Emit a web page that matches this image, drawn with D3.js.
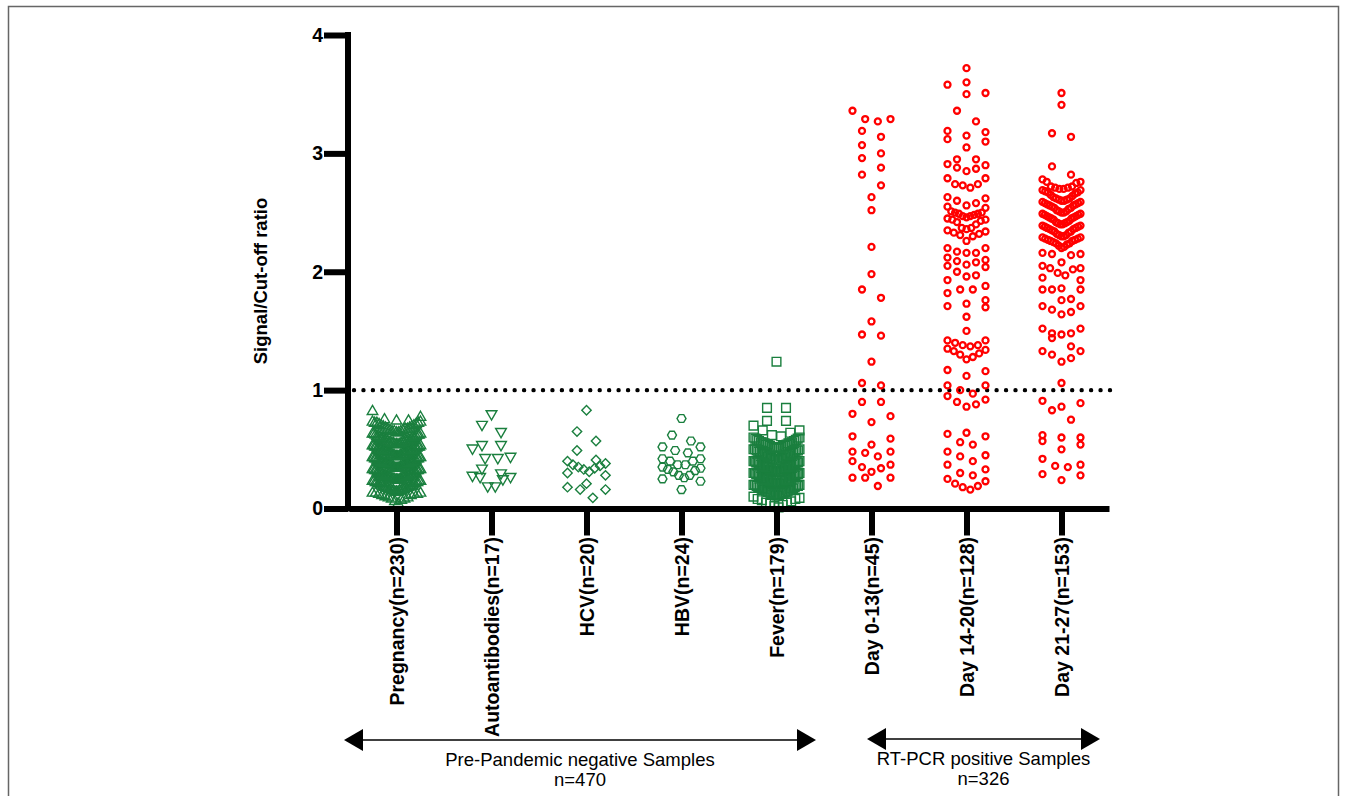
<!DOCTYPE html>
<html>
  <head>
    <meta charset="utf-8" />
    <title>Signal/Cut-off ratio</title>
    <script src="https://d3js.org/d3.v7.min.js"></script>
    <style>
      body { margin: 0; background: #fff; }
      text { font-family: Arial, "Liberation Sans", sans-serif; }
    </style>
  </head>
  <body>
    <svg width="1357" height="796"></svg>
    <script>
      // categories and values
      const categories = ["Pregnancy(n=230)", "Autoantibodies(n=17)", "HCV(n=20)", "HBV(n=24)",
                          "Fever(n=179)", "Day 0-13(n=45)", "Day 14-20(n=128)", "Day 21-27(n=153)"];
      const yTicks = [0, 1, 2, 3, 4];
      const cutOff = 1;

      const pregnancy = [
        0.04,0.06,0.07,0.08,0.08,0.09,0.09,0.10,
        0.11,0.11,0.12,0.12,0.12,0.13,0.13,0.13,0.14,0.14,0.14,0.15,0.15,0.15,0.15,0.16,0.16,0.16,0.16,0.17,0.17,0.17,0.18,0.18,0.18,0.19,0.19,0.19,0.20,0.20,
        0.21,0.21,0.21,0.22,0.22,0.22,0.22,0.23,0.23,0.23,0.23,0.24,0.24,0.24,0.24,0.25,0.25,0.25,0.25,0.25,0.26,0.26,0.26,0.26,0.27,0.27,0.27,0.27,0.28,0.28,0.28,0.28,0.29,0.29,0.29,0.30,0.30,0.30,
        0.31,0.31,0.31,0.31,0.32,0.32,0.32,0.32,0.33,0.33,0.33,0.33,0.34,0.34,0.34,0.34,0.34,0.35,0.35,0.35,0.35,0.36,0.36,0.36,0.36,0.37,0.37,0.37,0.37,0.38,0.38,0.38,0.38,0.38,0.39,0.39,0.39,0.39,0.40,0.40,0.40,0.40,
        0.41,0.41,0.41,0.41,0.42,0.42,0.42,0.42,0.43,0.43,0.43,0.43,0.44,0.44,0.44,0.44,0.45,0.45,0.45,0.45,0.46,0.46,0.46,0.46,0.47,0.47,0.47,0.47,0.48,0.48,0.48,0.48,0.49,0.49,0.49,0.49,0.50,0.50,0.50,0.50,
        0.51,0.51,0.51,0.51,0.52,0.52,0.52,0.52,0.53,0.53,0.53,0.54,0.54,0.54,0.54,0.55,0.55,0.55,0.56,0.56,0.56,0.56,0.57,0.57,0.57,0.58,0.58,0.58,0.58,0.59,0.59,0.59,0.60,0.60,0.60,
        0.61,0.61,0.61,0.62,0.62,0.62,0.63,0.63,0.63,0.64,0.64,0.65,0.65,0.65,0.66,0.66,0.67,0.67,0.67,0.68,0.68,0.69,0.69,0.70,0.70,
        0.71,0.71,0.72,0.72,0.72,0.73,0.73,0.74,0.74,0.75,0.77,0.82
      ];
      const autoantibodies = [0.80,0.71,0.65,0.54,0.54,0.51,0.44,0.43,0.43,0.34,0.30,0.28,0.27,0.27,0.25,0.19,0.19];
      const hcv = [0.83,0.65,0.57,0.49,0.41,0.40,0.38,0.37,0.36,0.35,0.34,0.33,0.31,0.30,0.28,0.21,0.18,0.16,0.16,0.09];
      const hbv = [0.76,0.62,0.57,0.52,0.52,0.49,0.47,0.42,0.42,0.40,0.40,0.37,0.37,0.35,0.34,0.33,0.32,0.31,0.28,0.28,0.26,0.25,0.23,0.16];
      const fever = [
        0.01,0.02,0.03,0.04,0.05,0.05,0.06,0.07,0.08,0.08,0.09,0.10,
        0.11,0.11,0.11,0.12,0.12,0.12,0.13,0.13,0.13,0.14,0.14,0.14,0.15,0.15,0.15,0.16,0.16,0.16,0.17,0.17,0.17,0.18,0.18,0.18,0.19,0.19,0.19,0.20,0.20,0.20,
        0.21,0.21,0.21,0.21,0.22,0.22,0.22,0.23,0.23,0.23,0.23,0.24,0.24,0.24,0.25,0.25,0.25,0.25,0.26,0.26,0.26,0.27,0.27,0.27,0.27,0.28,0.28,0.28,0.29,0.29,0.29,0.29,0.30,0.30,0.30,
        0.31,0.31,0.31,0.31,0.32,0.32,0.32,0.33,0.33,0.33,0.33,0.34,0.34,0.34,0.35,0.35,0.35,0.35,0.36,0.36,0.36,0.37,0.37,0.37,0.37,0.38,0.38,0.38,0.39,0.39,0.39,0.39,0.40,0.40,0.40,
        0.41,0.41,0.41,0.42,0.42,0.42,0.43,0.43,0.43,0.44,0.44,0.44,0.45,0.45,0.45,0.46,0.46,0.46,0.47,0.47,0.47,0.48,0.48,0.48,0.49,0.49,0.49,0.50,0.50,0.50,
        0.51,0.51,0.51,0.52,0.52,0.52,0.53,0.53,0.53,0.54,0.54,0.54,0.55,0.55,0.55,0.56,0.56,0.56,0.57,0.57,0.58,0.58,0.59,0.59,0.60,0.60,0.61,0.62,
        0.64,0.66,0.66,0.70,0.74,0.74,0.85,0.85,1.24
      ];
      const day0_13 = [3.29,3.27,3.29,3.36,3.14,3.19,3.07,3.00,2.96,2.88,2.82,2.73,2.63,2.52,2.21,1.98,1.85,1.78,1.58,1.46,
                       1.47,1.24,1.04,1.06,0.90,0.90,0.80,0.78,0.73,0.59,0.61,0.54,0.48,0.44,0.47,0.48,0.40,0.35,0.31,0.34,
                       0.37,0.26,0.19,0.26,0.26];
      const day14_20 = [
        3.72,3.60,3.58,3.51,3.50,3.36,3.27,3.19,3.18,3.15,3.12,3.10,3.05,
        2.95,2.95,2.91,2.90,2.88,2.87,2.85,
        2.79,2.79,2.74,2.74,2.73,2.71,
        2.63,2.62,2.60,2.58,2.56,2.55,2.54,2.51,
        2.50,2.50,2.49,2.49,2.48,2.47,2.47,2.46,2.45,2.44,2.44,2.43,2.42,2.40,
        2.37,2.37,2.36,2.35,2.34,2.33,2.32,2.31,2.30,2.26,
        2.20,2.20,2.17,2.16,2.16,2.12,
        2.10,2.09,2.08,2.06,2.05,2.04,2.00,
        1.97,1.96,1.93, 1.88,1.85,1.85,1.82, 1.76,1.73,1.71,1.70, 1.62,1.50,
        1.42,1.42,1.40,1.38,1.38,1.37,1.35,1.34,1.33,1.31,1.30,1.28,1.26,
        1.17,1.16,1.12,
        1.04,1.04,1.00,0.97,0.95,0.92,0.90,0.88,0.86,
        0.64,0.63,0.61,0.56,0.54, 0.48,0.45,0.44,0.40, 0.37,0.33,0.30,0.28,
        0.25,0.23,0.21,0.19,0.18,0.16
      ];
      const day21_27 = [
        3.51,3.41,3.17,3.14,2.89,2.82,2.78,2.76,2.76,2.75,
        2.72,2.72,2.71,2.71,2.70,2.70,2.69,2.69,2.68,2.67,2.67,2.66,2.65,2.64,2.63,2.62,2.62,
        2.61,2.61,2.60,2.60,2.59,2.59,2.58,2.58,2.57,2.57,2.56,2.56,2.55,2.54,2.54,2.53,2.52,
        2.51,2.51,2.50,2.50,2.49,2.49,2.48,2.48,2.47,2.47,2.46,2.46,2.45,2.45,2.44,2.43,2.42,2.42,
        2.41,2.41,2.40,2.40,2.39,2.39,2.38,2.38,2.37,2.37,2.36,2.36,2.35,2.34,2.34,2.33,2.32,
        2.31,2.31,2.30,2.30,2.29,2.29,2.28,2.28,2.27,2.27,2.26,2.26,2.25,2.24,2.24,2.23,2.22,
        2.21,2.20,2.16,2.15,2.15,2.14,
        2.08,2.05,2.03,2.03,2.02,1.99,1.97,1.95,
        1.93,1.86,1.85,1.85,1.85,
        1.77,1.76,1.71,1.71,1.68,1.66,1.64,
        1.52,1.52,1.48,1.48,1.47,1.44,
        1.37,1.33,1.33,1.30,1.27,1.24,
        1.06,
        0.91,0.89,0.86,0.83,0.75,
        0.62,0.60,0.60,0.57,0.54,0.50,
        0.42,0.37,0.36,0.35,
        0.29,0.28,0.24
      ];
      const groupValues = [pregnancy, autoantibodies, hcv, hbv, fever, day0_13, day14_20, day21_27];

      const green = "#1a7f3e", red = "#ff0000";

      const svg = d3.select("svg"),
            width = +svg.attr("width"),
            height = +svg.attr("height");

      svg.append("rect").attr("width", width).attr("height", height).attr("fill", "#fff");
      // frame
      svg.append("rect")
         .attr("x", 8.5).attr("y", 6.5)
         .attr("width", 1330).attr("height", 820)
         .attr("fill", "none").attr("stroke", "#666").attr("stroke-width", 1.5);

      const x = d3.scalePoint().domain(categories).range([349, 1109]).padding(0.5);
      const y = d3.scaleLinear().domain([0, 4]).range([508.5, 35]);

      // hexagon symbol (not in d3's built-ins)
      const symbolHexagon = {
        draw(ctx, size) {
          const r = Math.sqrt(size / (1.5 * Math.sqrt(3)));
          for (let i = 0; i < 6; i++) {
            const a = i * Math.PI / 3;
            if (i === 0) ctx.moveTo(r * Math.cos(a), r * Math.sin(a));
            else ctx.lineTo(r * Math.cos(a), r * Math.sin(a));
          }
          ctx.closePath();
        }
      };

      const styles = [
        { type: d3.symbolTriangle, size: 48, rot: 0, color: green, sw: 1.4, half: 24 },
        { type: d3.symbolTriangle, size: 50, rot: 180, color: green, sw: 1.4, half: 19 },
        { type: d3.symbolSquare, size: 44, rot: 45, color: green, sw: 1.4, half: 19 },
        { type: symbolHexagon, size: 52, rot: 0, color: green, sw: 1.4, half: 19 },
        { type: d3.symbolSquare, size: 76, rot: 0, color: green, sw: 1.4, half: 23 },
        { type: "circle", color: red, sw: 2.3, half: 19 },
        { type: "circle", color: red, sw: 2.3, half: 19 },
        { type: "circle", color: red, sw: 2.3, half: 19 }
      ];

      // GraphPad-like scatter: rows of close values spread sideways, lowest in the middle
      function swarm(values, half) {
        const sorted = values.slice().sort((a, b) => a - b);
        const rows = [];
        let row = [];
        sorted.forEach(v => {
          if (row.length && y(row[0]) - y(v) >= 11.5) { rows.push(row); row = []; }
          row.push(v);
        });
        if (row.length) rows.push(row);
        const out = [];
        rows.forEach(r => {
          const n = r.length;
          const s = n > 1 ? Math.min(19, 2 * half / (n - 1)) : 0;
          const pos = d3.range(n).map(i => (i - (n - 1) / 2) * s)
                        .sort((a, b) => Math.abs(a) - Math.abs(b) || b - a);
          r.forEach((v, i) => out.push({ v, dx: pos[i] }));
        });
        return out;
      }

      // cut-off line
      svg.append("line")
         .attr("x1", 354).attr("x2", 1110)
         .attr("y1", y(cutOff)).attr("y2", y(cutOff))
         .attr("stroke", "#000").attr("stroke-width", 4.4)
         .attr("stroke-linecap", "round")
         .attr("stroke-dasharray", "0 9.45");

      // points
      categories.forEach((c, gi) => {
        const st = styles[gi];
        const pts = swarm(groupValues[gi], st.half);
        const g = svg.append("g").attr("class", "group");
        if (st.type === "circle") {
          g.selectAll("circle").data(pts).join("circle")
           .attr("cx", d => x(c) + d.dx).attr("cy", d => y(d.v))
           .attr("r", 3.0)
           .attr("fill", "none").attr("stroke", st.color).attr("stroke-width", st.sw);
        } else {
          const sym = d3.symbol().type(st.type).size(st.size);
          g.selectAll("path").data(pts).join("path")
           .attr("d", sym)
           .attr("transform", d => `translate(${x(c) + d.dx},${y(d.v)}) rotate(${st.rot})`)
           .attr("fill", "none").attr("stroke", st.color).attr("stroke-width", st.sw);
        }
      });

      // y axis
      const yAxis = svg.append("g")
         .attr("transform", "translate(348,0)")
         .call(d3.axisLeft(y).tickValues(yTicks).tickFormat(d3.format("d"))
                 .tickSize(24).tickSizeOuter(0).tickPadding(1));
      yAxis.select(".domain").attr("stroke-width", 6).attr("d", "M0,32V511.5");
      yAxis.selectAll(".tick line").attr("stroke-width", 6);
      yAxis.selectAll(".tick text")
           .attr("font-size", 19.5).attr("font-weight", "bold")
           .attr("font-family", "Arial, 'Liberation Sans', sans-serif").attr("fill", "#000");

      // x axis
      const xAxis = svg.append("g")
         .attr("transform", `translate(0,${y(0)})`)
         .call(d3.axisBottom(x).tickSize(27).tickSizeOuter(0).tickFormat(""));
      xAxis.select(".domain").attr("stroke-width", 6);
      xAxis.selectAll(".tick line").attr("stroke-width", 6);

      svg.append("g").selectAll("text").data(categories).join("text")
         .attr("transform", d => `translate(${x(d)},537) rotate(-90)`)
         .attr("dy", "0.36em")
         .attr("text-anchor", "end")
         .attr("font-size", 19.5).attr("font-weight", "bold")
         .text(d => d);

      svg.append("text")
         .attr("transform", "translate(260,281) rotate(-90)")
         .attr("dy", "0.36em")
         .attr("text-anchor", "middle")
         .attr("font-size", 18.5).attr("font-weight", "bold")
         .text("Signal/Cut-off ratio");

      // group arrows
      const arrows = [
        { x1: 344, x2: 816, y: 740, label: "Pre-Pandemic negative Samples", n: "n=470" },
        { x1: 867, x2: 1100, y: 739, label: "RT-PCR positive Samples", n: "n=326" }
      ];
      arrows.forEach(a => {
        const g = svg.append("g");
        g.append("line").attr("x1", a.x1 + 10).attr("x2", a.x2 - 10)
         .attr("y1", a.y).attr("y2", a.y).attr("stroke", "#000").attr("stroke-width", 1.6);
        g.append("path").attr("d", `M${a.x1},${a.y}L${a.x1 + 19},${a.y - 11}L${a.x1 + 19},${a.y + 11}Z`);
        g.append("path").attr("d", `M${a.x2},${a.y}L${a.x2 - 19},${a.y - 11}L${a.x2 - 19},${a.y + 11}Z`);
        const cx = (a.x1 + a.x2) / 2;
        g.append("text").attr("x", cx).attr("y", a.y + 26).attr("text-anchor", "middle")
         .attr("font-size", 18.5).text(a.label);
        g.append("text").attr("x", cx).attr("y", a.y + 46).attr("text-anchor", "middle")
         .attr("font-size", 18.5).text(a.n);
      });
    </script>
  </body>
</html>
